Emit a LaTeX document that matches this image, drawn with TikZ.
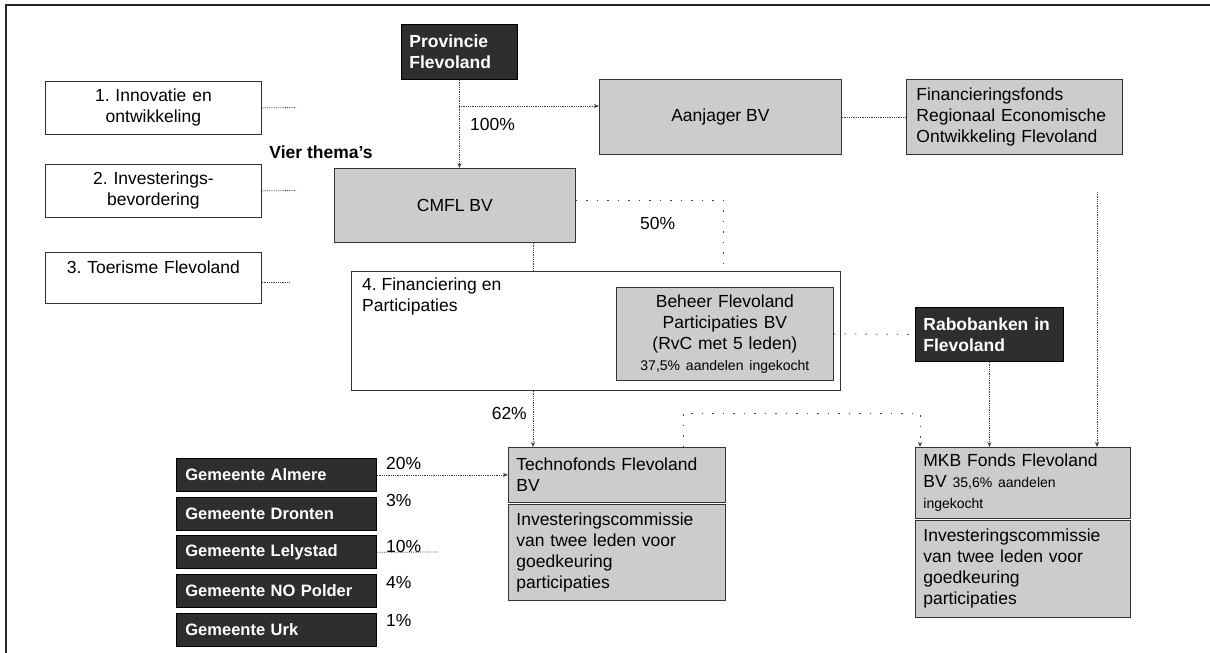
\documentclass[tikz,border=0pt]{standalone}
\usepackage{fontspec}
\setmainfont{Liberation Sans}
\usetikzlibrary{arrows.meta}
\frenchspacing
\newcommand\mainsize{\fontsize{17.5}{21}\selectfont}
\newcommand\smallsz{\fontsize{14}{16}\selectfont}
\begin{document}
\begin{tikzpicture}[x=1pt, y=-1pt, >={Stealth[length=5pt,width=4pt]},
	every node/.style={font=\mainsize, inner sep=0pt},
	box/.style={draw=black!80, line width=.8pt, anchor=north west, inner xsep=8pt, inner ysep=0pt},
	thema/.style={box, fill=white, minimum width=216pt, minimum height=53pt, text width=200pt, align=center},
	grijs/.style={box, fill=gray!40},
	donker/.style={box, draw=black, fill=black!82, text=white, font=\mainsize\bfseries, align=left},
	gemeente/.style={donker, minimum width=200pt, minimum height=33pt, text width=182pt, font=\fontsize{16.5}{20}\selectfont\bfseries},
	lnk/.style={densely dotted, line width=.8pt, black!75},
	ijl/.style={dash pattern=on 1.5pt off 9pt, line width=.8pt, black!75},
	pct/.style={anchor=west}]
	
	\useasboundingbox (0,0) rectangle (1210,653);
	
	% Kader
	\draw[line width=1.6pt, black!85] (6,653) -- (6,5) -- (1210,5);
	
	% Provincie en deelnemingen
	\node[donker, minimum width=116pt, minimum height=55pt, text width=100pt] (prov) at (401,24) {Provincie\\Flevoland};
	\node[grijs, minimum width=241pt, minimum height=74pt] (cmfl) at (334,168) {CMFL BV};
	\node[grijs, minimum width=242pt, minimum height=75pt] (aanj) at (599,79) {Aanjager BV};
	\node[grijs, minimum width=216pt, minimum height=75pt, text width=196pt, inner xsep=10pt, align=left] (fin) at (906,79) {Financieringsfonds\\Regionaal Economische\\Ontwikkeling Flevoland};
	
	% Vier thema's
	\node[font=\mainsize\bfseries] (vier) at (321,152) {Vier thema's};
	\node[thema] (inno) at (45,81) {1. Innovatie en\\ontwikkeling};
	\node[thema] (inve) at (45,164) {2. Investerings-\\bevordering};
	\node[thema, minimum height=51pt] (toer) at (45,252) {3. Toerisme Flevoland\\\mbox{}};
	\node[thema, minimum width=489pt, text width=473pt, minimum height=119pt] (finp) at (351,271) {};
	\node[anchor=north west, align=left] (finpt) at (362,278) {4. Financiering en\\Participaties};
	\node[grijs, minimum width=217pt, minimum height=93pt, text width=201pt, align=center] (beheer) at (616,287) {Beheer Flevoland\\Participaties BV\\(RvC met 5 leden)\\{\smallsz 37,5\% aandelen ingekocht}};
	\node[donker, minimum width=148pt, minimum height=54pt, text width=132pt] (rabo) at (915,307) {Rabobanken in\\Flevoland};
	
	% Fondsen
	\node[grijs, minimum width=217pt, minimum height=55pt, text width=201pt, align=left] (techno) at (508,447) {Technofonds Flevoland\\BV};
	\node[grijs, minimum width=217pt, minimum height=96pt, text width=201pt, align=left] (technoic) at (508,504) {Investeringscommissie\\van twee leden voor\\goedkeuring\\participaties};
	\node[grijs, minimum width=215pt, minimum height=71pt, text width=199pt, align=left] (mkb) at (915,447) {MKB Fonds Flevoland\\BV {\smallsz 35,6\% aandelen}\\{\smallsz ingekocht}};
	\node[grijs, minimum width=215pt, minimum height=97pt, text width=199pt, align=left] (mkbic) at (915,520) {Investeringscommissie\\van twee leden voor\\goedkeuring\\participaties};
	
	% Gemeenten
	\foreach \nm/\tx/\pc/\py [count=\i from 0] in {alm/Almere/20/463, dro/Dronten/3/500, lel/Lelystad/10/546, nop/NO Polder/4/582, urk/Urk/1/620}{
		\node[gemeente] (\nm) at (176,{458+38.7*\i}) {Gemeente \tx};
		\node[pct] (p\nm) at (386,\py) {\pc\%};
	}
	
	% Percentages
	\node[pct] (p100) at (470,124) {100\%};
	\node[pct] (p50) at (640,223) {50\%};
	\node[anchor=east] (p62) at (527,413) {62\%};
	
	% Hulppunten
	\coordinate (pv) at (459,106);
	\coordinate (s1) at (296,107.5);
	\coordinate (s2) at (296,190.5);
	\coordinate (s3) at (290,282);
	\coordinate (c4) at (533,0);
	\coordinate (h50) at (723,200);
	\coordinate (rv) at (1097,192);
	\coordinate (m1) at (683,413);
	\coordinate (m2) at (920,413);
	\coordinate (lst) at (438,552);
	
	% Verbindingen
	\draw[lnk,->] (prov.south) -- (prov.south |- cmfl.north);
	\draw[lnk,->] (pv) -- (pv -| aanj.west);
	\draw[lnk] (aanj.east) -- (fin.west);
	\draw[lnk] (inno.east) -- (s1);
	\draw[lnk] (inve.east) -- (s2);
	\draw[lnk] (toer.east |- s3) -- (s3);
	\draw[lnk] (c4 |- cmfl.south) -- (c4 |- finp.north);
	\draw[ijl] (cmfl.east |- h50) -- (h50) -- (h50 |- finp.north);
	\draw[lnk,->] (c4 |- finp.south) -- (c4 |- techno.north);
	\draw[ijl] (beheer.east) -- (rabo.west);
	\draw[lnk,->] (rabo.south) -- (rabo.south |- mkb.north);
	\draw[lnk,->] (rv) -- (rv |- mkb.north);
	\draw[ijl,->] (m1 |- techno.north) -- (m1) -- (m2) -- (m2 |- mkb.north);
	\draw[lnk,->] (alm.east) -- (techno.west |- alm.east);
	\draw[lnk] (lel.east) -- (lst);
\end{tikzpicture}
\end{document}
